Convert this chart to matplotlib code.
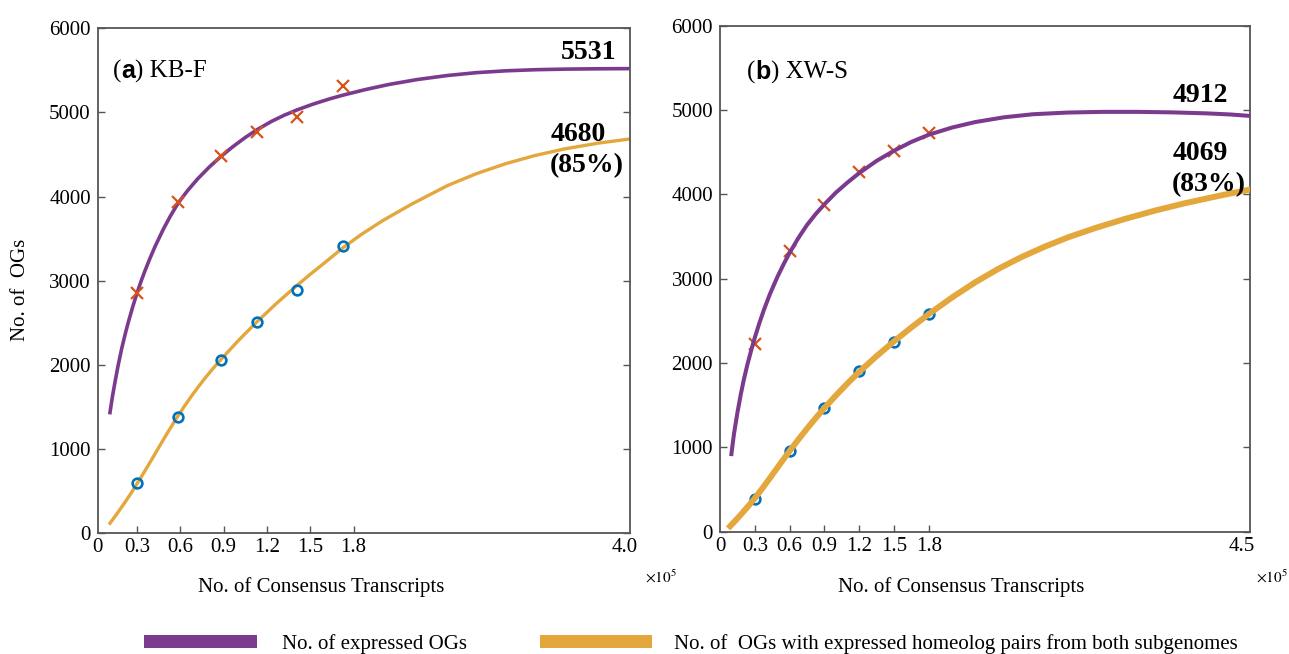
import matplotlib.pyplot as plt
from matplotlib.patches import Rectangle

plt.rcParams['font.family'] = ['Liberation Serif', 'DejaVu Serif']
plt.rcParams['mathtext.fontset'] = 'stix'

# ---- data (x in units of 1e5 consensus transcripts) ----
# (a) KB-F
kb_x = [0.302, 0.586, 0.882, 1.133, 1.408, 1.729]
kb_expressed = [2857, 3940, 4485, 4762, 4952, 5318]
kb_pairs = [588, 1377, 2060, 2512, 2893, 3413]
# fitted curves
kb_fit_x_e = [0.113, 0.13, 0.148, 0.17, 0.194, 0.22, 0.24, 0.27, 0.298, 0.33, 0.355, 0.39,
              0.425, 0.482, 0.53, 0.586, 0.65, 0.72, 0.80, 0.882, 0.96, 1.05, 1.133, 1.23,
              1.32, 1.41, 1.52, 1.636, 1.73, 1.88, 2.043, 2.24, 2.449, 2.65, 2.855, 3.06,
              3.262, 3.5, 3.714]
kb_fit_e = [1429, 1620, 1795, 1995, 2190, 2375, 2505, 2685, 2840, 3000, 3115, 3265,
            3405, 3610, 3764, 3925, 4070, 4210, 4350, 4478, 4588, 4703, 4797, 4893,
            4968, 5032, 5100, 5163, 5208, 5272, 5333, 5392, 5440, 5474, 5496, 5509,
            5516, 5520, 5522]
kb_fit_x_p = [0.113, 0.16, 0.21, 0.26, 0.302, 0.35, 0.40, 0.45, 0.50, 0.54, 0.579, 0.63,
              0.68, 0.73, 0.78, 0.83, 0.884, 1.0, 1.126, 1.27, 1.408, 1.5, 1.6, 1.726,
              1.85, 2.0, 2.2, 2.449, 2.65, 2.855, 3.06, 3.262, 3.5, 3.714]
kb_fit_p = [112, 222, 345, 473, 588, 721, 865, 1012, 1157, 1269, 1377, 1509,
            1632, 1748, 1858, 1961, 2066, 2283, 2502, 2735, 2943, 3075, 3213, 3390,
            3545, 3712, 3908, 4130, 4272, 4392, 4490, 4567, 4637, 4685]

# (b) XW-S
xw_x = [0.3, 0.6, 0.9, 1.2, 1.5, 1.8]
xw_expressed = [2227, 3321, 3874, 4262, 4514, 4724]
xw_pairs = [391, 951, 1465, 1900, 2251, 2583]
xw_fit_x_e = [0.098, 0.11, 0.121, 0.15, 0.178, 0.205, 0.236, 0.27, 0.30, 0.34, 0.38, 0.43,
              0.495, 0.55, 0.60, 0.675, 0.75, 0.825, 0.90, 1.0, 1.1, 1.2, 1.35, 1.5,
              1.65, 1.8, 2.0, 2.2, 2.45, 2.7, 3.0, 3.3, 3.6, 3.9, 4.2, 4.4, 4.57]
xw_fit_e = [918, 1050, 1165, 1410, 1620, 1800, 1980, 2155, 2300, 2475, 2635, 2815,
            3020, 3175, 3305, 3480, 3635, 3765, 3880, 4020, 4140, 4250, 4395, 4515,
            4620, 4705, 4790, 4855, 4912, 4948, 4968, 4976, 4976, 4970, 4958, 4945, 4928]
xw_fit_x_p = [0.087, 0.15, 0.2, 0.25, 0.3, 0.375, 0.45, 0.525, 0.6, 0.675, 0.75, 0.825,
              0.9, 1.0, 1.1, 1.2, 1.35, 1.5, 1.65, 1.8, 2.0, 2.2, 2.4, 2.6, 2.8, 3.0,
              3.25, 3.5, 3.75, 4.0, 4.3, 4.57]
xw_fit_p = [63, 155, 232, 312, 395, 530, 672, 815, 955, 1090, 1220, 1345,
            1465, 1615, 1758, 1893, 2080, 2255, 2420, 2578, 2775, 2955, 3115, 3255, 3378, 3488,
            3605, 3710, 3805, 3890, 3980, 4055]

tick_labels = ['0', '0.3', '0.6', '0.9', '1.2', '1.5', '1.8']

purple = '#7B3A8E'
orange = '#E3A73C'
red = '#D95319'
blue = '#0072BD'

fig = plt.figure(figsize=(12.89, 6.54), dpi=100)
ax1 = fig.add_axes([0.0758, 0.1855, 0.413, 0.771])
ax2 = fig.add_axes([0.5586, 0.1873, 0.4112, 0.7737])


def style(ax, xlim, xticks, labels):
    ax.set_xlim(xlim)
    ax.set_ylim(0, 6000)
    ax.set_xticks(xticks, labels)
    ax.set_yticks(range(0, 6001, 1000))
    ax.tick_params(direction='in', length=5, width=1, color='#555555',
                   labelsize=15, right=True, top=False)
    ax.tick_params(axis='x', pad=4)
    ax.tick_params(axis='y', pad=5)
    for s in ax.spines.values():
        s.set_color('#555555')
        s.set_linewidth(1.3)
    ticks = ax.xaxis.get_major_ticks()
    ticks[0].tick1line.set_visible(False)
    ticks[-1].tick1line.set_visible(False)
    ax.set_xlabel('No. of Consensus Transcripts', fontsize=15)


def panel_label(ax, x, y, letter, name):
    t = ax.text(x, y, '(', transform=ax.transAxes, fontsize=18, va='baseline')
    t2 = ax.annotate(letter, xy=(1, 0), xycoords=t, va='bottom', fontsize=18,
                     family='Liberation Sans', weight='bold')
    ax.annotate(') ' + name, xy=(1, 0), xycoords=t2, va='bottom', fontsize=18)


# (a)
ax1.plot(kb_fit_x_e, kb_fit_e, color=purple, lw=2.6, zorder=2)
ax1.plot(kb_fit_x_p, kb_fit_p, color=orange, lw=2.4, zorder=2)
ax1.plot(kb_x, kb_expressed, 'x', color=red, ms=8, mew=1.6, zorder=3)
ax1.plot(kb_x, kb_pairs, 'o', color=blue, ms=7, mew=1.9, mfc='none', zorder=3)
style(ax1, (0.028, 3.714), [0.028, 0.3, 0.6, 0.9, 1.2, 1.5, 1.8, 3.68], tick_labels + ['4.0'])
ax1.xaxis.set_label_coords(0.42, -0.088)
ax1.set_ylabel('No. of  OGs', fontsize=15)
ax1.yaxis.set_label_coords(-0.127, 0.482)
panel_label(ax1, 0.028, 0.903, 'a', 'KB-F')
ax1.text(0.870, 0.939, '5531', transform=ax1.transAxes, fontsize=20, weight='bold', va='baseline')
ax1.text(0.850, 0.776, '4680', transform=ax1.transAxes, fontsize=20, weight='bold', va='baseline')
ax1.text(0.850, 0.716, '(85%)', transform=ax1.transAxes, fontsize=20, weight='bold', va='baseline')

# (b)
ax2.plot(xw_x, xw_expressed, 'x', color=red, ms=8, mew=1.6, zorder=2)
ax2.plot(xw_x, xw_pairs, 'o', color=blue, ms=7, mew=1.9, mfc='none', zorder=2)
ax2.plot(xw_fit_x_e, xw_fit_e, color=purple, lw=2.9, zorder=3)
ax2.plot(xw_fit_x_p, xw_fit_p, color=orange, lw=4.3, zorder=3)
style(ax2, (0, 4.57), [0, 0.3, 0.6, 0.9, 1.2, 1.5, 1.8, 4.5], tick_labels + ['4.5'])
ax2.xaxis.set_label_coords(0.455, -0.09)
panel_label(ax2, 0.051, 0.896, 'b', 'XW-S')
ax2.text(0.853, 0.849, '4912', transform=ax2.transAxes, fontsize=20, weight='bold', va='baseline')
ax2.text(0.853, 0.734, '4069', transform=ax2.transAxes, fontsize=20, weight='bold', va='baseline')
ax2.text(0.853, 0.673, '(83%)', transform=ax2.transAxes, fontsize=20, weight='bold', va='baseline')

# x10^5 multipliers
fig.text(645 / 1289, 1 - 583 / 654, r'$\times10^5$', fontsize=11, va='baseline')
fig.text(1256 / 1289, 1 - 583 / 654, r'$\times10^5$', fontsize=11, va='baseline')

# legend
fig.add_artist(Rectangle((144 / 1289, 6 / 654), 113 / 1289, 13 / 654,
                         transform=fig.transFigure, color=purple, lw=0))
fig.add_artist(Rectangle((540 / 1289, 6 / 654), 112 / 1289, 13 / 654,
                         transform=fig.transFigure, color=orange, lw=0))
fig.text(282 / 1289, 5 / 654, 'No. of expressed OGs', fontsize=15, va='baseline')
fig.text(674 / 1289, 5 / 654, 'No. of  OGs with expressed homeolog pairs from both subgenomes',
         fontsize=15, va='baseline')

fig.savefig('out.png', dpi=100)
